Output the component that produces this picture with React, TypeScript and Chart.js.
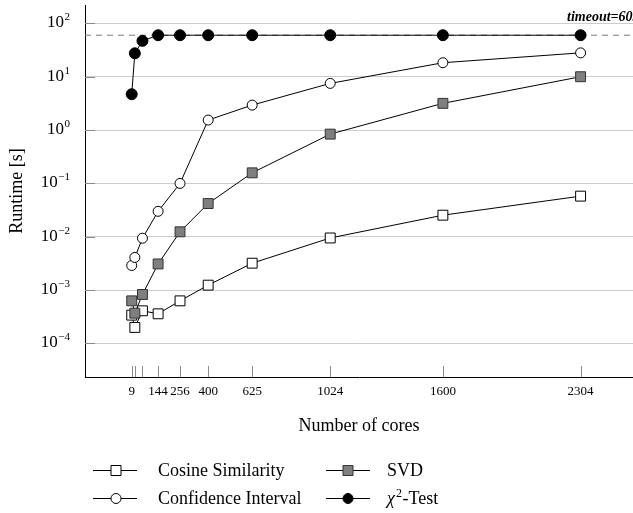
import React, { useEffect, useRef } from 'react';
import { Chart, registerables } from 'chart.js';

Chart.register(...registerables);

const cores = [9, 25, 64, 144, 256, 400, 625, 1024, 1600, 2304];
const labeledCores = [9, 144, 256, 400, 625, 1024, 1600, 2304];
const cosineSimilarity = [3.4e-4, 2.0e-4, 4.1e-4, 3.6e-4, 6.3e-4, 1.24e-3, 3.2e-3, 9.5e-3, 0.0254, 0.0578];
const svd = [6.3e-4, 3.7e-4, 8.3e-4, 3.1e-3, 0.0124, 0.042, 0.158, 0.84, 3.17, 10];
const confidenceInterval = [0.0029, 0.0041, 0.0094, 0.03, 0.1, 1.54, 2.94, 7.5, 18.3, 28];
const chiSquareTest = [4.7, 27.5, 47, 60, 60, 60, 60, 60, 60, 60];
const yExponents = [-4, -3, -2, -1, 0, 1, 2];
const timeoutSeconds = 60;
const timeoutLabel = 'timeout=60s';
const xTitle = 'Number of cores';
const yTitle = 'Runtime [s]';

const serif = "'Liberation Serif', 'Times New Roman', serif";

function drawMarker(ctx: CanvasRenderingContext2D, kind: string, x: number, y: number) {
  ctx.save();
  ctx.lineWidth = 1;
  if (kind === 'openSquare' || kind === 'graySquare') {
    ctx.fillStyle = kind === 'openSquare' ? '#ffffff' : '#7f7f7f';
    ctx.strokeStyle = kind === 'openSquare' ? '#000000' : '#333333';
    ctx.beginPath();
    ctx.rect(x - 5, y - 5, 10, 10);
    ctx.fill();
    ctx.stroke();
  } else {
    ctx.fillStyle = kind === 'openCircle' ? '#ffffff' : '#000000';
    ctx.strokeStyle = '#000000';
    ctx.beginPath();
    ctx.arc(x, y, 5, 0, Math.PI * 2);
    ctx.fill();
    ctx.stroke();
  }
  ctx.restore();
}

export default function App() {
  const ref = useRef<HTMLCanvasElement>(null);

  useEffect(() => {
    const canvas = ref.current;
    if (!canvas) return;

    const overlay = {
      id: 'overlay',
      beforeDatasetsDraw(chart: any) {
        const { ctx, chartArea, scales } = chart;
        const xs = scales.x;
        const ys = scales.y;
        ctx.save();
        ctx.lineWidth = 1;
        ctx.strokeStyle = '#8a8a8a';
        for (const e of yExponents) {
          const py = Math.round(ys.getPixelForValue(Math.pow(10, e))) + 0.5;
          ctx.beginPath();
          ctx.moveTo(chartArea.left, py);
          ctx.lineTo(chartArea.left + 10, py);
          ctx.stroke();
        }
        for (const c of cores) {
          const px = Math.round(xs.getPixelForValue(c)) + 0.5;
          ctx.beginPath();
          ctx.moveTo(px, chartArea.bottom);
          ctx.lineTo(px, chartArea.bottom - 11);
          ctx.stroke();
        }
        const ty = ys.getPixelForValue(timeoutSeconds);
        ctx.setLineDash([6, 5]);
        ctx.strokeStyle = '#7a7a7a';
        ctx.beginPath();
        ctx.moveTo(chartArea.left, ty);
        ctx.lineTo(chartArea.right, ty);
        ctx.stroke();
        ctx.setLineDash([]);
        ctx.font = `italic bold 14px ${serif}`;
        ctx.fillStyle = '#000';
        ctx.textAlign = 'left';
        ctx.textBaseline = 'alphabetic';
        ctx.fillText(timeoutLabel, 567, ty - 14);
        ctx.restore();
      },
      afterDraw(chart: any) {
        const { ctx, scales } = chart;
        const ys = scales.y;
        ctx.save();
        ctx.fillStyle = '#000';
        ctx.textBaseline = 'alphabetic';
        ctx.textAlign = 'right';
        const rightEdge = 70;
        for (const e of yExponents) {
          const py = ys.getPixelForValue(Math.pow(10, e));
          const expStr = e < 0 ? '\u2212' + Math.abs(e) : String(e);
          ctx.font = `11px ${serif}`;
          const ew = ctx.measureText(expStr).width;
          ctx.fillText(expStr, rightEdge, py - 3);
          ctx.font = `17px ${serif}`;
          ctx.fillText('10', rightEdge - ew - 0.5, py + 4);
        }

        // legend
        const rows = [470, 498];
        const cols = [
          { line0: 93, line1: 137, marker: 116, text: 158 },
          { line0: 326, line1: 370, marker: 348, text: 387 },
        ];
        const entries = [
          { label: 'Cosine Similarity', kind: 'openSquare', r: 0, c: 0 },
          { label: 'SVD', kind: 'graySquare', r: 0, c: 1 },
          { label: 'Confidence Interval', kind: 'openCircle', r: 1, c: 0 },
          { label: 'chi', kind: 'filledCircle', r: 1, c: 1 },
        ];
        for (const en of entries) {
          const y = rows[en.r];
          const col = cols[en.c];
          ctx.strokeStyle = '#000';
          ctx.lineWidth = 1;
          ctx.beginPath();
          ctx.moveTo(col.line0, Math.round(y) + 0.5);
          ctx.lineTo(col.line1, Math.round(y) + 0.5);
          ctx.stroke();
          drawMarker(ctx, en.kind, col.marker, Math.round(y) + 0.5);
          ctx.fillStyle = '#000';
          ctx.textAlign = 'left';
          ctx.textBaseline = 'alphabetic';
          if (en.label === 'chi') {
            let x = col.text;
            ctx.font = `italic 18px ${serif}`;
            ctx.fillText('\u03C7', x, y + 6);
            x += ctx.measureText('\u03C7').width + 1;
            ctx.font = `12px ${serif}`;
            ctx.fillText('2', x, y - 1);
            x += ctx.measureText('2').width + 0.5;
            ctx.font = `18px ${serif}`;
            ctx.fillText('-Test', x, y + 6);
          } else {
            ctx.font = `18px ${serif}`;
            ctx.fillText(en.label, col.text, y + 6);
          }
        }
        ctx.restore();
      },
    };

    const mk = (label: string, data: number[], style: any, order: number) => ({
      label,
      data: cores.map((c, i) => ({ x: c, y: data[i] })),
      borderColor: '#000',
      borderWidth: 1,
      tension: 0,
      fill: false,
      pointBorderWidth: 1,
      order,
      ...style,
    });

    const chart = new Chart(canvas, {
      type: 'line',
      data: {
        datasets: [
          mk('Cosine Similarity', cosineSimilarity, {
            pointStyle: 'rect', pointRadius: 7, pointBackgroundColor: '#fff', pointBorderColor: '#000',
          }, 1),
          mk('SVD', svd, {
            pointStyle: 'rect', pointRadius: 7, pointBackgroundColor: '#7f7f7f', pointBorderColor: '#333',
          }, 0),
          mk('Confidence Interval', confidenceInterval, {
            pointStyle: 'circle', pointRadius: 5, pointBackgroundColor: '#fff', pointBorderColor: '#000',
          }, 2),
          mk('\u03C7\u00B2-Test', chiSquareTest, {
            pointStyle: 'circle', pointRadius: 5.5, pointBackgroundColor: '#000', pointBorderColor: '#000',
          }, 3),
        ],
      },
      options: {
        animation: false,
        responsive: false,
        devicePixelRatio: 1,
        layout: { autoPadding: false, padding: { top: 5, left: 0, right: 0, bottom: 76 } },
        plugins: { legend: { display: false }, tooltip: { enabled: false } },
        scales: {
          x: {
            type: 'linear',
            min: -229.8,
            max: 2572,
            bounds: 'data',
            grid: { display: false, drawTicks: false },
            border: { display: true, color: '#000', width: 1 },
            ticks: {
              autoSkip: false,
              maxRotation: 0,
              padding: 7,
              color: '#000',
              font: { family: serif, size: 13 },
              callback: (v: any) => (labeledCores.includes(Number(v)) ? String(v) : ''),
            },
            afterBuildTicks: (scale: any) => {
              scale.ticks = cores.map((c) => ({ value: c }));
            },
            afterFit: (scale: any) => {
              scale.height = 60;
              scale.paddingLeft = 0;
              scale.paddingRight = 0;
            },
            title: {
              display: true,
              text: xTitle,
              color: '#000',
              font: { family: serif, size: 18 },
              padding: { top: 7, bottom: 0 },
            },
          },
          y: {
            type: 'logarithmic',
            min: 2.355e-5,
            max: 221,
            bounds: 'data',
            grid: { display: true, color: '#cccccc', lineWidth: 1, drawTicks: false },
            border: { display: true, color: '#000', width: 1 },
            ticks: { callback: () => '', padding: 0 },
            afterBuildTicks: (scale: any) => {
              scale.ticks = yExponents.map((e) => ({ value: Math.pow(10, e) }));
            },
            afterFit: (scale: any) => {
              scale.width = 85;
              scale.paddingTop = 0;
              scale.paddingBottom = 0;
            },
            title: {
              display: true,
              text: yTitle,
              color: '#000',
              font: { family: serif, size: 18 },
              padding: { top: 6.2, bottom: 0 },
            },
          },
        },
      },
      plugins: [overlay],
    } as any);

    return () => chart.destroy();
  }, []);

  return (
    <div style={{ position: 'fixed', left: 0, top: 0, width: 633, height: 513, background: '#fff' }}>
      <canvas ref={ref} width={633} height={513} style={{ width: 633, height: 513, display: 'block' }} />
    </div>
  );
}
